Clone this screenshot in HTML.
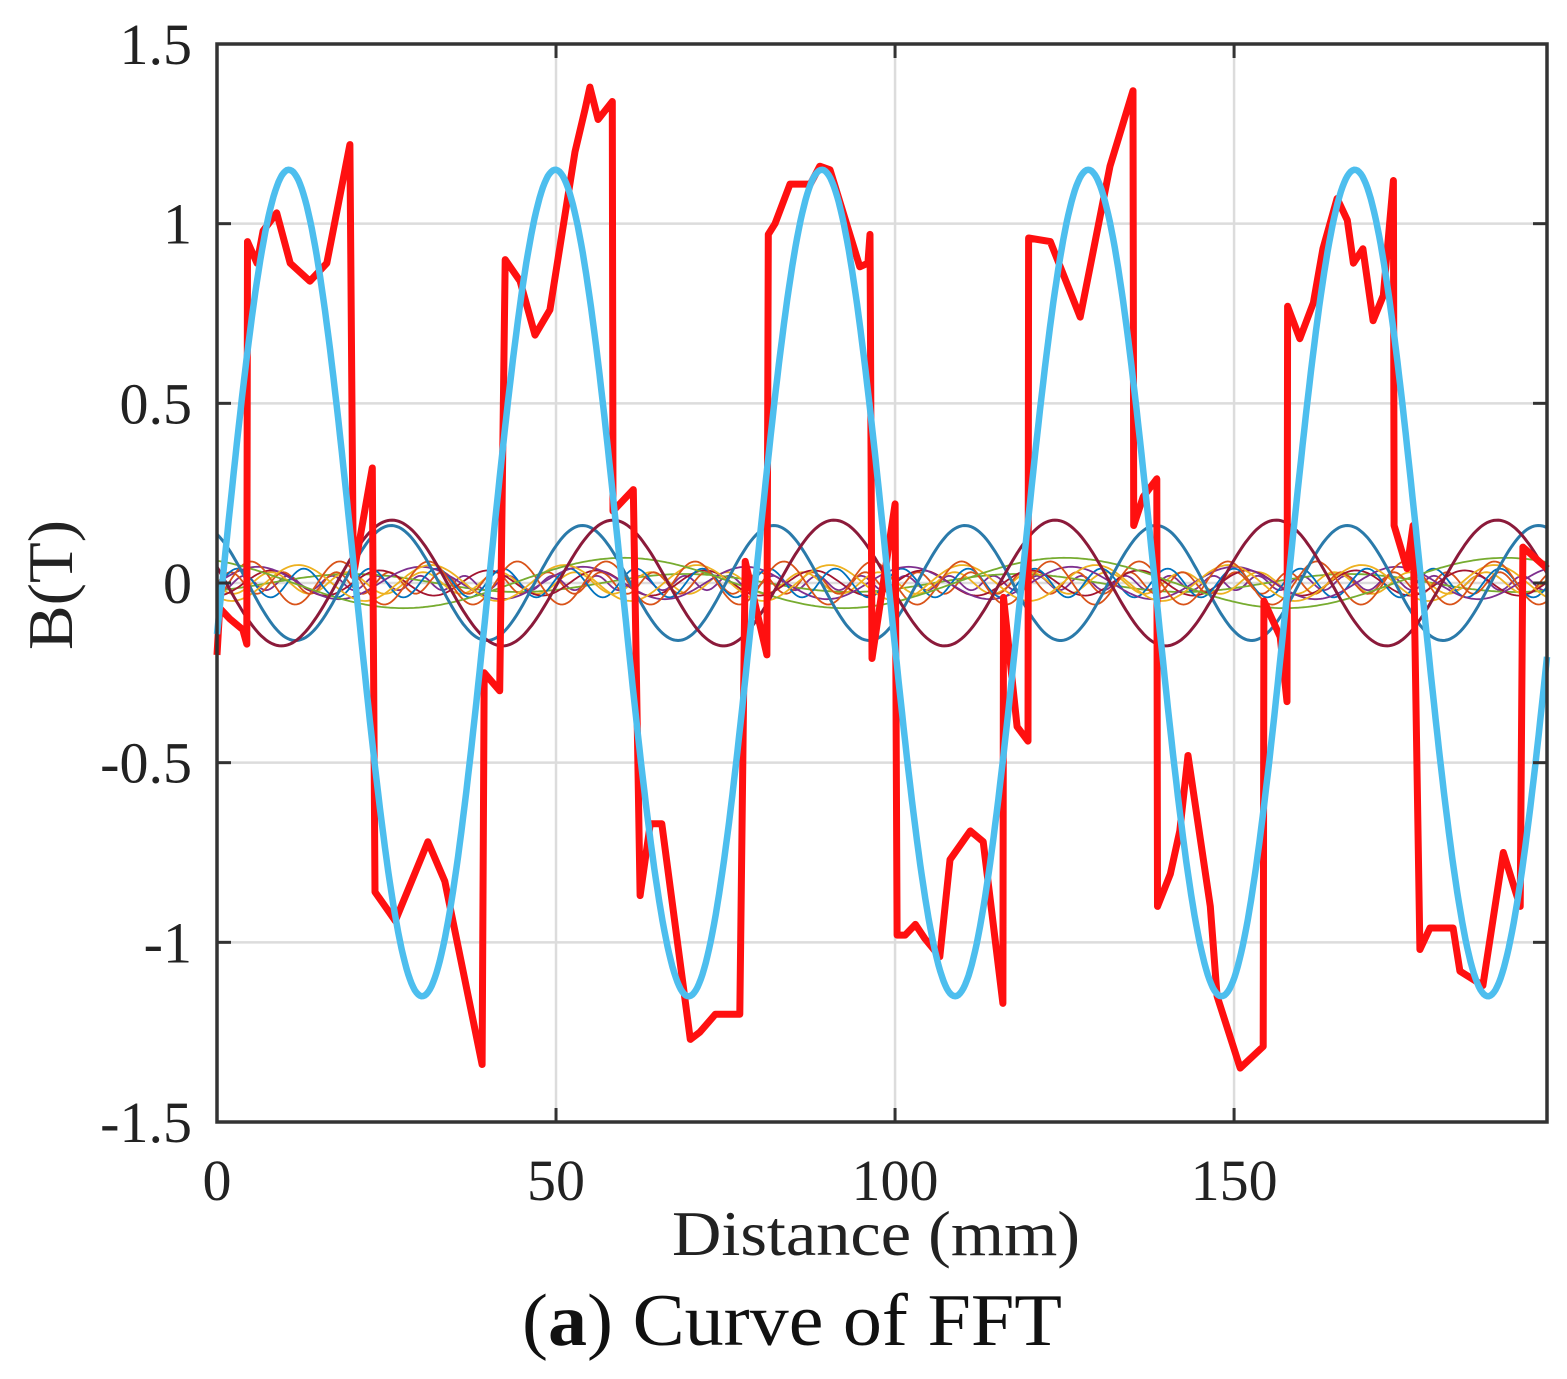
<!DOCTYPE html>
<html><head><meta charset="utf-8"><style>
html,body{margin:0;padding:0;background:#fff;}
svg{display:block;font-family:"Liberation Serif",serif;}
</style></head><body>
<svg id="chart" width="1567" height="1379" viewBox="0 0 1567 1379" xmlns="http://www.w3.org/2000/svg">
<g id="grid"></g>
<g id="harm"></g>
<g id="main"></g>
<g id="axes"></g>
<text x="672" y="1255" font-size="64" textLength="408" lengthAdjust="spacingAndGlyphs" fill="#222">Distance (mm)</text>
<text transform="translate(72,650) rotate(-90)" font-size="64" textLength="130" lengthAdjust="spacingAndGlyphs" fill="#222">B(T)</text>
<text x="522" y="1345" font-size="74" textLength="540" lengthAdjust="spacingAndGlyphs" fill="#111">(<tspan font-weight="bold">a</tspan>) Curve of FFT</text>
</svg>
<script>
const xTicks=[0,50,100,150];
const yTicks=[-1.5,-1,-0.5,0,0.5,1,1.5];
const yTickLabels=["-1.5","-1","-0.5","0","0.5","1","1.5"];
// measured signal (x mm, B T)
const redX=[0,0.4,1.9,3.8,4.4,4.5,5.9,6.8,8.8,10.8,13.7,16.2,19.6,20.1,22.9,23.3,26.3,31.1,33.6,39.1,39.4,41.7,42.5,44.7,46.9,49.1,52.8,54.3,55.0,56.2,58.3,58.4,61.4,62.4,63.9,65.6,69.8,71.2,73.5,77.1,77.9,81.1,81.3,82.3,84.5,87.5,88.9,90.4,94.8,96.0,96.3,96.6,100.0,100.3,101.5,103.0,104.4,106.6,108.1,111.1,113.0,115.9,116.0,118.0,119.6,119.7,122.9,127.3,131.7,135.1,135.2,136.6,138.6,138.7,140.6,142.0,143.2,145.0,146.5,147.5,150.9,154.3,154.4,156.8,157.8,157.9,159.7,161.7,163.1,165.2,166.7,167.6,169.0,170.5,172.0,173.5,173.6,175.5,176.4,177.4,178.9,182.3,183.3,186.7,189.7,192.2,192.6,196.2];
const redY=[-0.2,-0.07,-0.1,-0.13,-0.17,0.95,0.89,0.98,1.03,0.89,0.84,0.89,1.22,0.02,0.32,-0.86,-0.94,-0.72,-0.83,-1.34,-0.25,-0.3,0.9,0.84,0.69,0.76,1.2,1.32,1.38,1.29,1.34,0.2,0.26,-0.87,-0.67,-0.67,-1.27,-1.25,-1.2,-1.2,0.06,-0.2,0.97,1.0,1.11,1.11,1.16,1.15,0.88,0.89,0.97,-0.21,0.22,-0.98,-0.98,-0.95,-0.99,-1.04,-0.77,-0.69,-0.72,-1.17,-0.04,-0.4,-0.44,0.96,0.95,0.74,1.16,1.37,0.16,0.24,0.29,-0.9,-0.81,-0.69,-0.48,-0.71,-0.9,-1.15,-1.35,-1.29,-0.05,-0.15,-0.33,0.77,0.68,0.78,0.93,1.07,1.01,0.89,0.93,0.73,0.8,1.12,0.16,0.04,0.16,-1.02,-0.96,-0.96,-1.08,-1.12,-0.75,-0.9,0.1,0.04];
// FFT components: amplitude (T), wavelength (mm), peak position (mm)
const harmAmp=[1.15,0.175,0.16,0.07,0.06,0.05,0.045,0.04,0.035,0.03,0.03,0.025,0.02];
const harmWave=[39.3,32.6,28.2,65,13.1,19.6,24,9.8,16,7.8,11.2,49,6.5];
const harmPeak=[89.2,123.6,110.3,60,5,12,30,3,40,2,8,20,4];
const harmColor=["#4DBEEE","#8B1A3A","#2A7AAA","#77AC30","#D95319","#EDB120","#7E2F8E","#0072BD","#A2142F","#D95319","#EDB120","#77AC30","#7E2F8E"];
const X0=217,X1=1547,Y0=1122,Y1=44,XMAX=196.15;
function sx(v){return X0+(v/XMAX)*(X1-X0);}
function sy(v){return Y0-((v+1.5)/3)*(Y0-Y1);}
const NS="http://www.w3.org/2000/svg";
function mk(tag,attrs,parent){const e=document.createElementNS(NS,tag);for(const k in attrs)e.setAttribute(k,attrs[k]);parent.appendChild(e);return e;}
const grid=document.getElementById('grid'),axes=document.getElementById('axes'),harm=document.getElementById('harm'),mainG=document.getElementById('main');
xTicks.forEach((t,i)=>{
  if(t>0){const g=mk('line',{x1:sx(t),x2:sx(t),y1:Y1,y2:Y0,stroke:'#dcdcdc','stroke-width':2.5},grid);
  
  }
  const a=mk('line',{x1:sx(t),x2:sx(t),y1:Y0,y2:Y0-14,stroke:'#333','stroke-width':3},axes);
  
  
  const b=mk('line',{x1:sx(t),x2:sx(t),y1:Y1,y2:Y1+14,stroke:'#333','stroke-width':3},axes);
  
  
  const tx=mk('text',{x:sx(t),y:1200,'font-size':58,'text-anchor':'middle',fill:'#222'},axes);
  
  
  tx.textContent=String(t);
});
yTicks.forEach((t,i)=>{
  if(t>-1.5&&t<1.5){const g=mk('line',{x1:X0,x2:X1,y1:sy(t),y2:sy(t),stroke:'#dcdcdc','stroke-width':2.5},grid);
  
  }
  const a=mk('line',{x1:X0,x2:X0+14,y1:sy(t),y2:sy(t),stroke:'#333','stroke-width':3},axes);
  
  
  const b=mk('line',{x1:X1,x2:X1-14,y1:sy(t),y2:sy(t),stroke:'#333','stroke-width':3},axes);
  
  
  const tx=mk('text',{x:192,y:sy(t)+20,'font-size':58,'text-anchor':'end',fill:'#222'},axes);
  
  
  tx.textContent=yTickLabels[i];
});
const box=mk('rect',{x:X0,y:Y1,width:X1-X0,height:Y0-Y1,fill:'none',stroke:'#333','stroke-width':3.5},axes);


const order=harmAmp.map((a,i)=>i).reverse();
order.forEach(i=>{
  if(i===0)return;
  let d='';
  for(let k=0;k<=600;k++){const x=XMAX*k/600;const y=harmAmp[i]*Math.cos(2*Math.PI*(x-harmPeak[i])/harmWave[i]);d+=(k?'L':'M')+sx(x).toFixed(1)+' '+sy(y).toFixed(1);}
  const p=mk('path',{d:d,fill:'none',stroke:harmColor[i],'stroke-width':i<3?3:1.8},harm);
  
  
});
let rd='';
redX.forEach((x,i)=>{rd+=(i?'L':'M')+sx(x).toFixed(1)+' '+sy(redY[i]).toFixed(1);});
const rp=mk('path',{d:rd,fill:'none',stroke:'#FF1010','stroke-width':7,'stroke-linejoin':'round'},mainG);


let bd='';
for(let k=0;k<=800;k++){const x=XMAX*k/800;const y=harmAmp[0]*Math.cos(2*Math.PI*(x-harmPeak[0])/harmWave[0]);bd+=(k?'L':'M')+sx(x).toFixed(1)+' '+sy(y).toFixed(1);}
const bp=mk('path',{d:bd,fill:'none',stroke:harmColor[0],'stroke-width':6.5},mainG);


</script>
</body></html>
